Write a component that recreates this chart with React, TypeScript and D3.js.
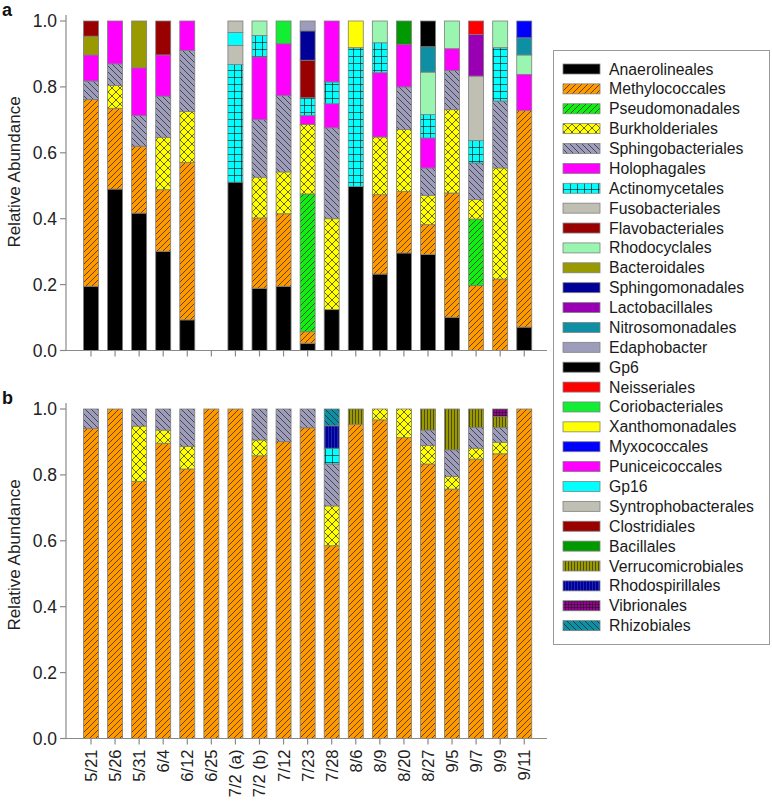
import React from 'react';
import * as d3 from 'd3';

// ---------- DATA ----------
const categories = ['5/21', '5/26', '5/31', '6/4', '6/12', '6/25', '7/2 (a)', '7/2 (b)', '7/12', '7/23', '7/28', '8/6', '8/9', '8/20', '8/27', '9/5', '9/7', '9/9', '9/11'];

const taxa = [
  'Anaerolineales', 'Methylococcales', 'Pseudomonadales', 'Burkholderiales', 'Sphingobacteriales',
  'Holophagales', 'Actinomycetales', 'Fusobacteriales', 'Flavobacteriales', 'Rhodocyclales',
  'Bacteroidales', 'Sphingomonadales', 'Lactobacillales', 'Nitrosomonadales', 'Edaphobacter',
  'Gp6', 'Neisseriales', 'Coriobacteriales', 'Xanthomonadales', 'Myxococcales',
  'Puniceicoccales', 'Gp16', 'Syntrophobacterales', 'Clostridiales', 'Bacillales',
  'Verrucomicrobiales', 'Rhodospirillales', 'Vibrionales', 'Rhizobiales',
];

const yTicks = [0, 0.2, 0.4, 0.6, 0.8, 1.0];

// Panel a: relative abundance of each order per sample
const panelA: [string, number][][] = [
  [['Anaerolineales', 0.195], ['Methylococcales', 0.567], ['Sphingobacteriales', 0.056], ['Holophagales', 0.079], ['Bacteroidales', 0.057], ['Clostridiales', 0.046]],
  [['Anaerolineales', 0.490], ['Methylococcales', 0.245], ['Burkholderiales', 0.069], ['Sphingobacteriales', 0.066], ['Holophagales', 0.130]],
  [['Anaerolineales', 0.417], ['Methylococcales', 0.203], ['Sphingobacteriales', 0.093], ['Holophagales', 0.145], ['Bacteroidales', 0.142]],
  [['Anaerolineales', 0.301], ['Methylococcales', 0.187], ['Burkholderiales', 0.159], ['Sphingobacteriales', 0.125], ['Holophagales', 0.125], ['Clostridiales', 0.103]],
  [['Anaerolineales', 0.093], ['Methylococcales', 0.478], ['Burkholderiales', 0.154], ['Sphingobacteriales', 0.186], ['Holophagales', 0.089]],
  [],
  [['Anaerolineales', 0.511], ['Actinomycetales', 0.357], ['Fusobacteriales', 0.058], ['Gp16', 0.039], ['Syntrophobacterales', 0.035]],
  [['Anaerolineales', 0.189], ['Methylococcales', 0.213], ['Burkholderiales', 0.124], ['Sphingobacteriales', 0.175], ['Holophagales', 0.190], ['Actinomycetales', 0.065], ['Rhodocyclales', 0.044]],
  [['Anaerolineales', 0.195], ['Methylococcales', 0.220], ['Burkholderiales', 0.127], ['Sphingobacteriales', 0.232], ['Holophagales', 0.157], ['Coriobacteriales', 0.069]],
  [['Anaerolineales', 0.022], ['Methylococcales', 0.035], ['Pseudomonadales', 0.418], ['Burkholderiales', 0.211], ['Holophagales', 0.027], ['Actinomycetales', 0.054], ['Flavobacteriales', 0.114], ['Sphingomonadales', 0.089], ['Edaphobacter', 0.030]],
  [['Anaerolineales', 0.124], ['Burkholderiales', 0.276], ['Sphingobacteriales', 0.276], ['Holophagales', 0.073], ['Actinomycetales', 0.066], ['Puniceicoccales', 0.185]],
  [['Anaerolineales', 0.498], ['Actinomycetales', 0.421], ['Xanthomonadales', 0.081]],
  [['Anaerolineales', 0.232], ['Methylococcales', 0.241], ['Burkholderiales', 0.175], ['Holophagales', 0.195], ['Actinomycetales', 0.091], ['Rhodocyclales', 0.066]],
  [['Anaerolineales', 0.296], ['Methylococcales', 0.187], ['Burkholderiales', 0.188], ['Sphingobacteriales', 0.129], ['Holophagales', 0.129], ['Bacillales', 0.071]],
  [['Anaerolineales', 0.291], ['Methylococcales', 0.091], ['Burkholderiales', 0.089], ['Sphingobacteriales', 0.083], ['Holophagales', 0.091], ['Actinomycetales', 0.071], ['Rhodocyclales', 0.129], ['Nitrosomonadales', 0.077], ['Gp6', 0.078]],
  [['Anaerolineales', 0.101], ['Methylococcales', 0.377], ['Burkholderiales', 0.253], ['Sphingobacteriales', 0.119], ['Holophagales', 0.066], ['Rhodocyclales', 0.084]],
  [['Methylococcales', 0.197], ['Pseudomonadales', 0.202], ['Burkholderiales', 0.059], ['Sphingobacteriales', 0.111], ['Actinomycetales', 0.068], ['Fusobacteriales', 0.196], ['Lactobacillales', 0.126], ['Neisseriales', 0.041]],
  [['Methylococcales', 0.217], ['Burkholderiales', 0.337], ['Sphingobacteriales', 0.203], ['Actinomycetales', 0.162], ['Rhodocyclales', 0.081]],
  [['Anaerolineales', 0.071], ['Methylococcales', 0.657], ['Holophagales', 0.110], ['Rhodocyclales', 0.059], ['Nitrosomonadales', 0.052], ['Myxococcales', 0.051]],
];

// Panel b
const panelB: [string, number][][] = [
  [['Methylococcales', 0.941], ['Sphingobacteriales', 0.059]],
  [['Methylococcales', 1.0]],
  [['Methylococcales', 0.780], ['Burkholderiales', 0.168], ['Sphingobacteriales', 0.052]],
  [['Methylococcales', 0.896], ['Burkholderiales', 0.040], ['Sphingobacteriales', 0.064]],
  [['Methylococcales', 0.818], ['Burkholderiales', 0.068], ['Sphingobacteriales', 0.114]],
  [['Methylococcales', 1.0]],
  [['Methylococcales', 1.0]],
  [['Methylococcales', 0.858], ['Burkholderiales', 0.048], ['Sphingobacteriales', 0.094]],
  [['Methylococcales', 0.901], ['Sphingobacteriales', 0.099]],
  [['Methylococcales', 0.943], ['Sphingobacteriales', 0.057]],
  [['Methylococcales', 0.585], ['Burkholderiales', 0.121], ['Sphingobacteriales', 0.127], ['Actinomycetales', 0.048], ['Rhodospirillales', 0.068], ['Rhizobiales', 0.051]],
  [['Methylococcales', 0.954], ['Verrucomicrobiales', 0.046]],
  [['Methylococcales', 0.967], ['Burkholderiales', 0.033]],
  [['Methylococcales', 0.913], ['Burkholderiales', 0.087]],
  [['Methylococcales', 0.833], ['Burkholderiales', 0.056], ['Sphingobacteriales', 0.047], ['Verrucomicrobiales', 0.064]],
  [['Methylococcales', 0.757], ['Burkholderiales', 0.038], ['Sphingobacteriales', 0.081], ['Verrucomicrobiales', 0.124]],
  [['Methylococcales', 0.848], ['Burkholderiales', 0.033], ['Sphingobacteriales', 0.063], ['Verrucomicrobiales', 0.056]],
  [['Methylococcales', 0.864], ['Burkholderiales', 0.035], ['Sphingobacteriales', 0.045], ['Verrucomicrobiales', 0.033], ['Vibrionales', 0.023]],
  [['Methylococcales', 1.0]],
];

// ---------- STYLE ----------
const taxonColors = [
  '#000000', '#FF9900', '#11EE11', '#FFFF00', '#9D9DBB',
  '#FF00FF', '#00FFFF', '#BFBFB4', '#990000', '#99F5B0',
  '#999900', '#000099', '#9900B3', '#0E8FA3', '#9D9DBB',
  '#000000', '#FF0000', '#11EE33', '#FFFF00', '#0000FF',
  '#FF00FF', '#00FFFF', '#BFBFB4', '#990000', '#009900',
  '#999900', '#000099', '#990099', '#0E8FA3',
];
const taxonPatterns = [
  '', 'fwd', 'fwd', 'cross', 'bwd',
  '', 'grid', '', '', '',
  '', '', '', '', '',
  '', '', '', '', '',
  '', '', '', '', '',
  'vert', 'vert', 'dense', 'bwd',
];

const FONT = '"Liberation Sans", Arial, Helvetica, sans-serif';
const LINE = 'rgba(30,25,20,0.75)';

function PatternDef({ id, color, kind }: { id: string; color: string; kind: string }) {
  let size = 6;
  let d = '';
  if (kind === 'fwd') { size = 6; d = 'M0,6 L6,0 M-1.5,1.5 L1.5,-1.5 M4.5,7.5 L7.5,4.5'; }
  else if (kind === 'bwd') { size = 6; d = 'M0,0 L6,6 M-1.5,4.5 L1.5,7.5 M4.5,-1.5 L7.5,1.5'; }
  else if (kind === 'cross') { size = 8; d = 'M0,8 L8,0 M0,0 L8,8 M-2,2 L2,-2 M6,10 L10,6 M-2,6 L2,10 M6,-2 L10,2'; }
  else if (kind === 'grid') { size = 7; d = 'M0,0.5 L7,0.5 M3.5,0 L3.5,7'; }
  else if (kind === 'vert') { size = 3; d = 'M1.5,0 L1.5,3'; }
  else if (kind === 'dense') { size = 3; d = 'M1.5,0 L1.5,3 M0,1.5 L3,1.5'; }
  const dark = kind === 'vert' && color === '#000099';
  return (
    <pattern id={id} patternUnits="userSpaceOnUse" width={size} height={size}>
      <rect width={size} height={size} fill={color} />
      <path d={d} stroke={dark ? 'rgba(60,80,200,0.6)' : LINE} strokeWidth={kind === 'vert' || kind === 'dense' ? 0.8 : 0.9} fill="none" />
    </pattern>
  );
}

function fillFor(i: number) {
  return taxonPatterns[i] ? `url(#pat${i})` : taxonColors[i];
}

const step = 24.07;
const firstCenter = 91;
const x = d3.scaleBand<string>()
  .domain(categories)
  .range([firstCenter - step / 2, firstCenter - step / 2 + step * categories.length])
  .paddingInner(0.377)
  .paddingOuter(0.1885);

const axisLeft = 66;
const axisRight = 547;
const axisColor = '#8a8a8a';

function buildStack(panel: [string, number][][]) {
  const rows = categories.map((c, i) => {
    const row: Record<string, any> = { sample: c };
    taxa.forEach((t) => (row[t] = 0));
    panel[i].forEach(([t, v]) => (row[t] = v));
    return row;
  });
  return d3.stack<Record<string, any>>().keys(taxa)(rows);
}

function Panel({ panel, y0, y1, label, showXLabels, labelY }: { panel: [string, number][][]; y0: number; y1: number; label: string; showXLabels: boolean; labelY: number }) {
  const y = d3.scaleLinear().domain([0, 1]).range([y0, y1]);
  const series = buildStack(panel);
  return (
    <g>
      {series.map((s, si) => (
        <g key={s.key}>
          {s.map((d, ci) => {
            const h = y(d[0]) - y(d[1]);
            if (h <= 0.01) return null;
            return (
              <rect
                key={ci}
                x={x(categories[ci])}
                y={y(d[1])}
                width={x.bandwidth()}
                height={h}
                fill={fillFor(si)}
                stroke="#7d7d7d"
                strokeWidth={0.8}
              />
            );
          })}
        </g>
      ))}
      {/* y axis */}
      <line x1={axisLeft} x2={axisLeft} y1={y(1) - 6} y2={y(0)} stroke={axisColor} strokeWidth={1.2} />
      {yTicks.map((t) => (
        <g key={t}>
          <line x1={axisLeft - 6} x2={axisLeft} y1={y(t)} y2={y(t)} stroke={axisColor} strokeWidth={1.2} />
          <text x={axisLeft - 9} y={y(t)} textAnchor="end" dominantBaseline="central" fontSize={17.5} fontFamily={FONT} fill="#222">
            {d3.format('.1f')(t)}
          </text>
        </g>
      ))}
      {/* x axis */}
      <line x1={axisLeft} x2={axisRight} y1={y(0)} y2={y(0)} stroke={axisColor} strokeWidth={1.2} />
      {categories.map((c) => {
        const cx = (x(c) as number) + x.bandwidth() / 2;
        return (
          <g key={c}>
            <line x1={cx} x2={cx} y1={y(0)} y2={y(0) + 6} stroke={axisColor} strokeWidth={1.2} />
            {showXLabels && (
              <text
                transform={`translate(${cx},${y(0) + 11}) rotate(-90)`}
                textAnchor="end"
                dominantBaseline="central"
                fontSize={16.5}
                fontFamily={FONT}
                fill="#222"
              >
                {c}
              </text>
            )}
          </g>
        );
      })}
      <text transform={`translate(14,${labelY}) rotate(-90)`} textAnchor="middle" dominantBaseline="central" fontSize={17} fontFamily={FONT} fill="#222">
        Relative Abundance
      </text>
      <text x={2} y={y(1) - 5} fontSize={18} fontWeight="bold" fontFamily={FONT} fill="#111">
        {label}
      </text>
    </g>
  );
}

function Legend() {
  const top = 69;
  const rowH = 19.88;
  return (
    <g>
      <rect x={553.5} y={50.5} width={216} height={594} fill="#fff" stroke="#9a9a9a" strokeWidth={1} />
      {taxa.map((t, i) => {
        const cy = top + i * rowH;
        return (
          <g key={t}>
            <rect x={563} y={cy - 5} width={37} height={10} fill={fillFor(i)} stroke="#808080" strokeWidth={0.8} />
            <text x={609} y={cy} dominantBaseline="central" fontSize={15.8} fontFamily={FONT} fill="#1a1a1a">
              {t}
            </text>
          </g>
        );
      })}
    </g>
  );
}

export default function App() {
  return (
    <svg width={772} height={802} style={{ position: 'absolute', left: 0, top: 0, background: '#fff' }}>
      <defs>
        {taxa.map((t, i) =>
          taxonPatterns[i] ? <PatternDef key={t} id={`pat${i}`} color={taxonColors[i]} kind={taxonPatterns[i]} /> : null
        )}
      </defs>
      <rect width={772} height={802} fill="#fff" />
      <Panel panel={panelA} y0={350.5} y1={21} label="a" showXLabels={false} labelY={172} />
      <Panel panel={panelB} y0={738.5} y1={409} label="b" showXLabels={true} labelY={555} />
      <Legend />
    </svg>
  );
}
